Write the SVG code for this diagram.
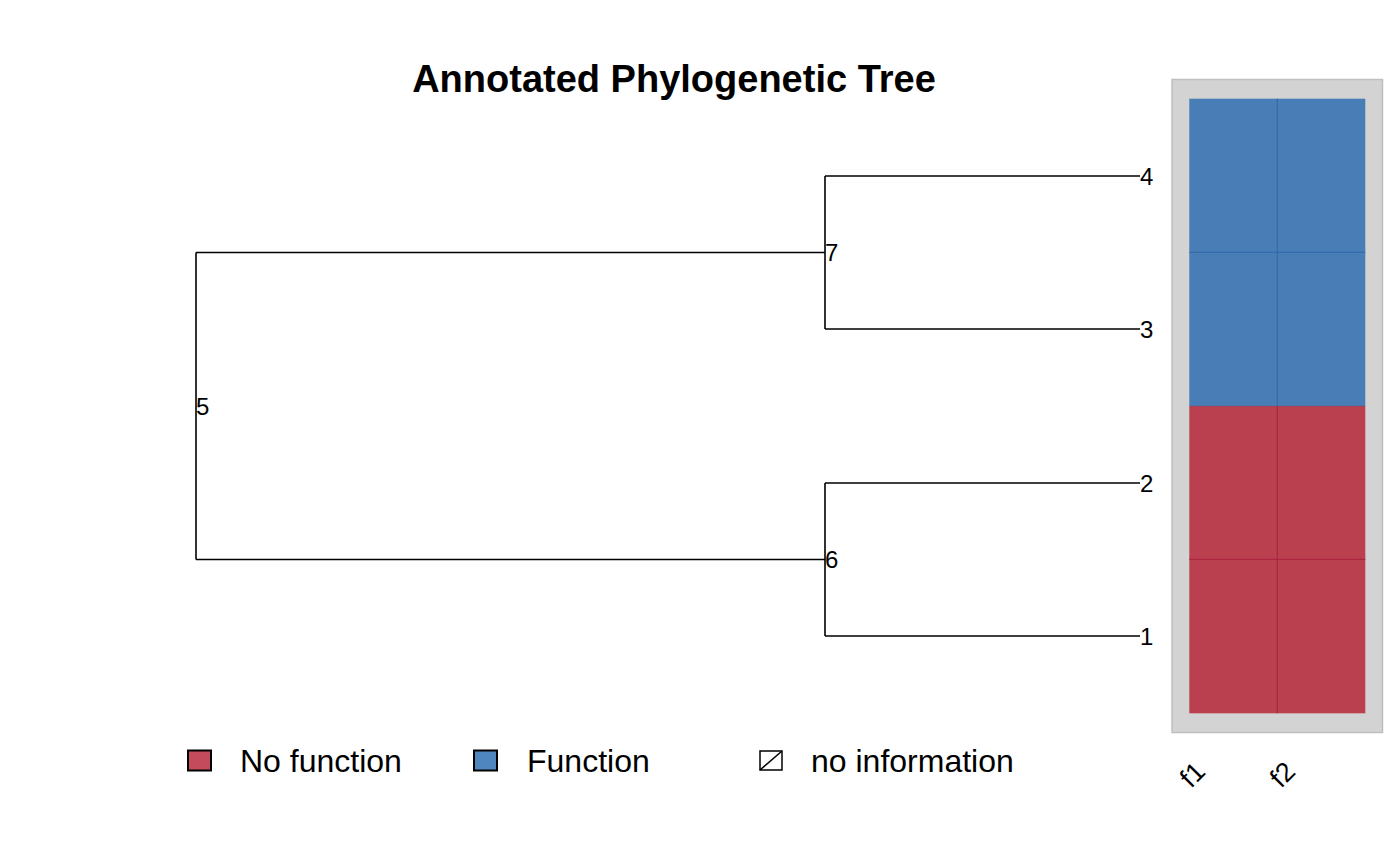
<svg xmlns="http://www.w3.org/2000/svg" width="1400" height="865" viewBox="0 0 1400 865">
<style>
.t{font-family:"Liberation Sans",Arial,sans-serif;fill:#000}
.lab{font-size:24px}
.fl{font-size:27px}
.leg{font-size:32px}
.br{fill:none;stroke:#000;stroke-width:1.6}
</style>
<rect width="1400" height="865" fill="#fff"/>
<text class="t" x="674" y="92" font-size="38" font-weight="bold" text-anchor="middle">Annotated Phylogenetic Tree</text>
<g id="connectors">
<path class="br" d="M196 252.5V559.5M196 252.5H825M196 559.5H825"/>
<path class="br" d="M825 176V329M825 176H1140M825 329H1140"/>
<path class="br" d="M825 483V636M825 483H1140M825 636H1140"/>
</g>
<g id="node5"><text class="t lab" x="196" y="415">5</text></g>
<g id="node7"><text class="t lab" x="825" y="261">7</text></g>
<g id="node6"><text class="t lab" x="825" y="568">6</text></g>
<g id="tip4"><text class="t lab" x="1140" y="185">4</text></g>
<g id="tip3"><text class="t lab" x="1140" y="338">3</text></g>
<g id="tip2"><text class="t lab" x="1140" y="492">2</text></g>
<g id="tip1"><text class="t lab" x="1140" y="645">1</text></g>
<g id="heatmap">
<rect x="1172" y="79.5" width="210.5" height="653" fill="#d3d3d3" stroke="#bebebe" stroke-width="1.5"/>
<rect x="1189.3" y="98.7" width="176" height="307.3" fill="#487db5"/>
<rect x="1189.3" y="406" width="176" height="307.3" fill="#ba3f4f"/>
<path d="M1277.3 98.7V406M1189.3 252.3H1365.3" stroke="#2f68aa" stroke-width="1"/>
<path d="M1277.3 406V713.3M1189.3 559.3H1365.3" stroke="#a8213a" stroke-width="1"/>
<path d="M1189.3 406H1365.3" stroke="#6a5a80" stroke-width="1" opacity="0.5"/>
<text class="t fl" transform="translate(1207,773) rotate(-45)" text-anchor="end">f1</text>
<text class="t fl" transform="translate(1297,773) rotate(-45)" text-anchor="end">f2</text>
</g>
<g id="legend">
<rect x="188" y="750.5" width="23" height="20" fill="#c44b5b" stroke="#000" stroke-width="2"/>
<text class="t leg" x="240" y="772">No function</text>
<rect x="474" y="750.5" width="23" height="20" fill="#4f86c0" stroke="#000" stroke-width="2"/>
<text class="t leg" x="527" y="772">Function</text>
<rect x="760" y="751" width="22" height="19" fill="#fff" stroke="#000" stroke-width="1.5"/>
<path d="M760 770L782 751" stroke="#000" stroke-width="1.5"/>
<text class="t leg" x="811" y="772">no information</text>
</g>
</svg>
